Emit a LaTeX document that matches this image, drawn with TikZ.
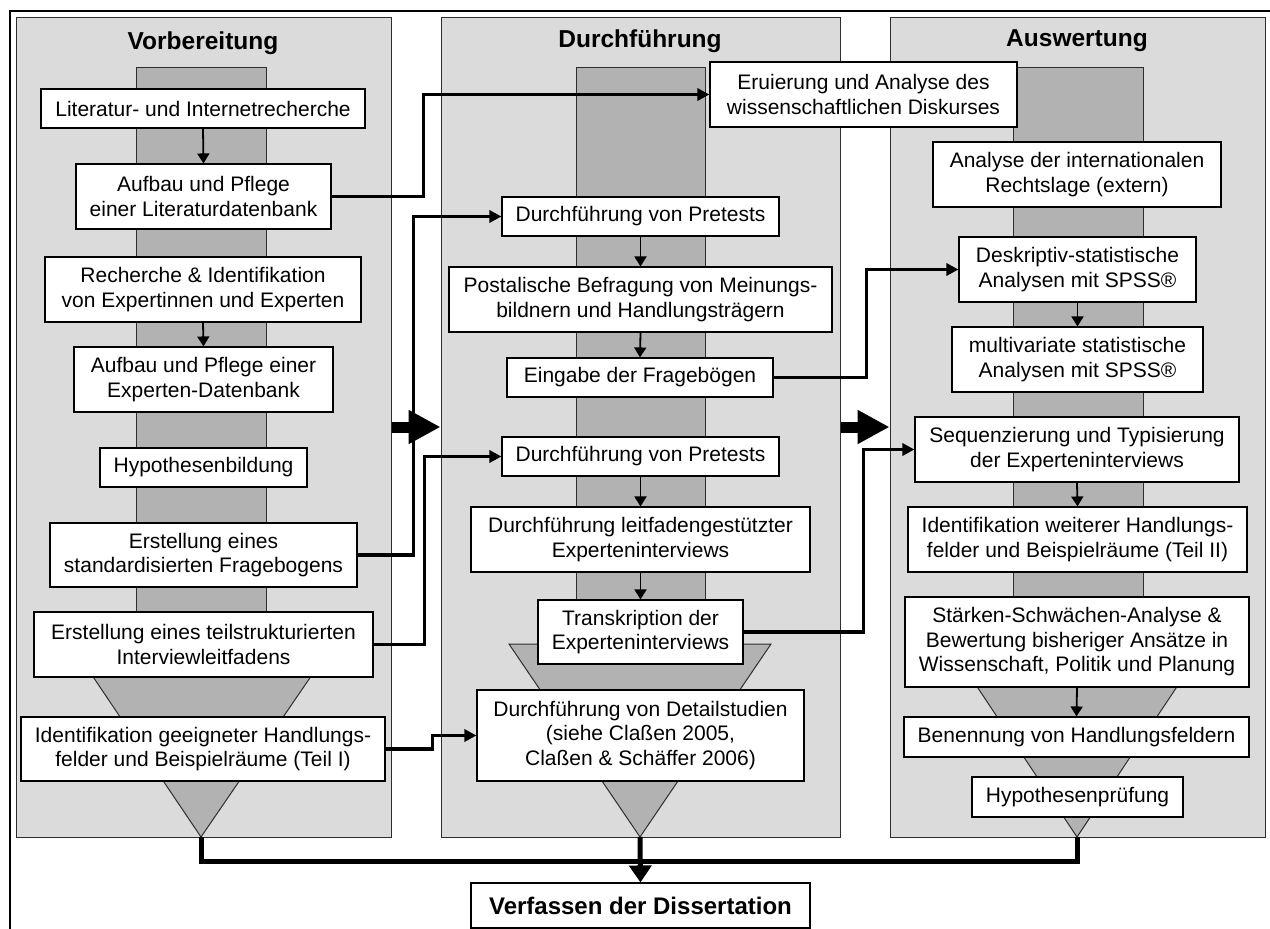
\documentclass[tikz,border=0pt]{standalone}
\usepackage{fontspec}
\setmainfont{Liberation Sans}
\usetikzlibrary{arrows.meta}
\definecolor{panelgray}{gray}{0.86}
\definecolor{bargray}{gray}{0.70}
\definecolor{edgegray}{gray}{0.18}
\begin{document}
\begin{tikzpicture}[x=1pt,y=-1pt,
  panel/.style={draw=edgegray,fill=panelgray,line width=1pt,inner sep=0pt},
  bar/.style={draw=edgegray,fill=bargray,line width=1pt},
  stepbox/.style={draw=black,fill=white,line width=1.1pt,align=center,inner sep=0pt,
    font=\fontsize{21}{24.5}\selectfont},
  phase/.style={font=\bfseries\fontsize{24.5}{28}\selectfont},
  inner/.style={-{Triangle[length=10pt,width=12pt]},line width=1.8pt},
  link/.style={-{Triangle[length=12pt,width=12pt]},line width=3.6pt},
  trunk/.style={line width=5pt},
  bigarrow/.style={-{Triangle[length=32pt,width=32pt]},line width=11pt}]
\useasboundingbox (0,0) rectangle (1270,929);

% frame
\draw[line width=2.2pt] (10,929) -- (10,11) -- (1270,11);

% phase panels
\node[panel,minimum width=375pt,minimum height=820pt] (pv) at (203.5,427) {};
\node[panel,minimum width=399pt,minimum height=820pt] (pd) at (640.5,427) {};
\node[panel,minimum width=375pt,minimum height=820pt] (pa) at (1077.5,427) {};

\node[phase] (tv) at (203,43) {Vorbereitung};
\node[phase] (td) at (640,41) {Durchführung};
\node[phase] (ta) at (1077,41) {Auswertung};

% central bars with funnels
\draw[bar] (136,67) rectangle (266,650);
\draw[bar] (75,650) -- (329,650) -- (201,837) -- cycle;
\draw[bar] (576,67) rectangle (705,644);
\draw[bar] (509,644) -- (771,644) -- (640,837) -- cycle;
\draw[bar] (1013,67) rectangle (1143,640);
\draw[bar] (946,640) -- (1208,640) -- (1077,837) -- cycle;
\coordinate (apexV) at (201,837);
\coordinate (apexD) at (640,837);
\coordinate (apexA) at (1077,837);

% Vorbereitung
\node[stepbox,minimum width=324pt,minimum height=39pt] (lit) at (203,108.5) {Literatur- und Internetrecherche};
\node[stepbox,minimum width=255pt,minimum height=65pt] (litdb) at (203.5,196.5) {Aufbau und Pflege\\einer Literaturdatenbank};
\node[stepbox,minimum width=316pt,minimum height=65pt] (rech) at (203,289.5) {Recherche \& Identifikation\\von Expertinnen und Experten};
\node[stepbox,minimum width=259pt,minimum height=65pt] (expdb) at (203.5,379.5) {Aufbau und Pflege einer\\Experten-Datenbank};
\node[stepbox,minimum width=207pt,minimum height=39pt] (hyp) at (203.5,467.5) {Hypothesenbildung};
\node[stepbox,minimum width=307pt,minimum height=64pt] (frage) at (203.5,555) {Erstellung eines\\standardisierten Fragebogens};
\node[stepbox,minimum width=339pt,minimum height=65pt] (leitf) at (203.5,644.5) {Erstellung eines teilstrukturierten\\Interviewleitfadens};
\node[stepbox,minimum width=364pt,minimum height=64pt] (ident) at (203,749) {Identifikation geeigneter Handlungs-\\felder und Beispielräume (Teil I)};

% Durchführung
\node[stepbox,minimum width=307pt,minimum height=65pt] (erui) at (863.5,94.5) {Eruierung und Analyse des\\wissenschaftlichen Diskurses};
\node[stepbox,minimum width=277pt,minimum height=39pt] (pre1) at (640.5,216.5) {Durchführung von Pretests};
\node[stepbox,minimum width=383pt,minimum height=65pt] (post) at (640.5,299.5) {Postalische Befragung von Meinungs-\\bildnern und Handlungsträgern};
\node[stepbox,minimum width=266pt,minimum height=39pt] (eing) at (640,377.5) {Eingabe der Fragebögen};
\node[stepbox,minimum width=277pt,minimum height=39pt] (pre2) at (640.5,456.5) {Durchführung von Pretests};
\node[stepbox,minimum width=339pt,minimum height=65pt] (intv) at (640.5,539.5) {Durchführung leitfadengestützter\\Experteninterviews};
\node[stepbox,minimum width=205pt,minimum height=64pt] (trans) at (640.5,632) {Transkription der\\Experteninterviews};
\node[stepbox,minimum width=327pt,minimum height=91pt] (detail) at (640.5,735.5) {Durchführung von Detailstudien\\(siehe Claßen 2005,\\Claßen \& Schäffer 2006)};

% Auswertung
\node[stepbox,minimum width=288pt,minimum height=65pt] (recht) at (1077,174.5) {Analyse der internationalen\\Rechtslage (extern)};
\node[stepbox,minimum width=237pt,minimum height=65pt] (deskr) at (1077.5,269.5) {Deskriptiv-statistische\\Analysen mit SPSS®};
\node[stepbox,minimum width=251pt,minimum height=65pt] (multi) at (1077.5,359.5) {multivariate statistische\\Analysen mit SPSS®};
\node[stepbox,minimum width=324pt,minimum height=65pt] (sequ) at (1077,449.5) {Sequenzierung und Typisierung\\der Experteninterviews};
\node[stepbox,minimum width=339pt,minimum height=65pt] (ident2) at (1077.5,539.5) {Identifikation weiterer Handlungs-\\felder und Beispielräume (Teil II)};
\node[stepbox,minimum width=344pt,minimum height=90pt] (swot) at (1077,642) {Stärken-Schwächen-Analyse \&\\Bewertung bisheriger Ansätze in\\Wissenschaft, Politik und Planung};
\node[stepbox,minimum width=345pt,minimum height=40pt] (benen) at (1076.5,737) {Benennung von Handlungsfeldern};
\node[stepbox,minimum width=211pt,minimum height=40pt] (hpruef) at (1077.5,797) {Hypothesenprüfung};

% result
\node[stepbox,minimum width=339pt,minimum height=45pt,font=\bfseries\fontsize{24}{28}\selectfont] (diss) at (640.5,905.5) {Verfassen der Dissertation};

% arrows inside the phases
\draw[inner] (lit.south) -- (litdb.north);
\draw[inner] (rech.south) -- (expdb.north);
\draw[inner] (pre1.south) -- (post.north);
\draw[inner] (post.south) -- (eing.north);
\draw[inner] (pre2.south) -- (intv.north);
\draw[inner] (intv.south) -- (trans.north);
\draw[inner] (deskr.south) -- (multi.north);
\draw[inner] (sequ.south) -- (ident2.north);
\draw[inner] (swot.south) -- (benen.north);

% links between the phases
\draw[link] (litdb.east) -- ++(92,0) |- (erui.west);
\draw[link] (frage.east) -- ++(56,0) |- (pre1.west);
\draw[link] (leitf.east) -- ++(51,0) |- (pre2.west);
\draw[link] (ident.east) -- ++(47,0) |- (detail.west);
\draw[link] (eing.east) -- ++(93,0) |- (deskr.west);
\draw[link] (trans.east) -- ++(120,0) |- (sequ.west);

% phase transitions
\draw[bigarrow] (pv.east) -- (pd.west);
\draw[bigarrow] (pd.east) -- (pa.west);

% joining into the dissertation
\draw[trunk] (apexV) -- ([yshift=-24pt]apexV) -| (apexA);
\draw[trunk,-{Triangle[length=17pt,width=22pt]}] (apexD) -- (diss.north);
\end{tikzpicture}
\end{document}
